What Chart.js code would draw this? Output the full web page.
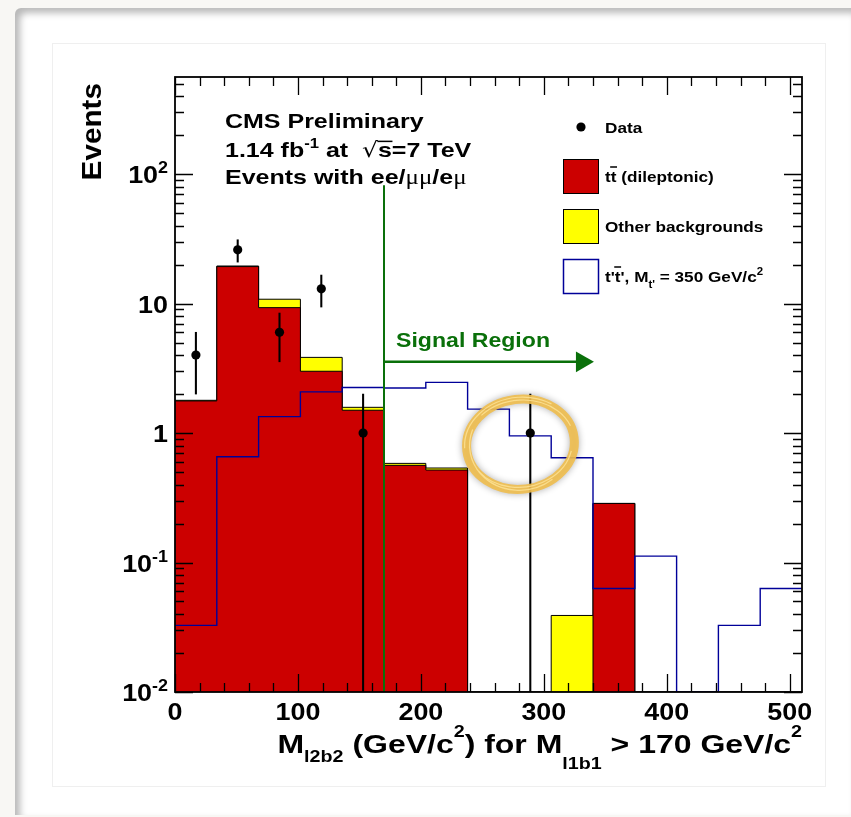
<!DOCTYPE html>
<html>
<head>
<meta charset="utf-8">
<script src="https://cdn.jsdelivr.net/npm/chart.js@4.4.1/dist/chart.umd.min.js"></script>
<style>
html, body { margin: 0; padding: 0; width: 851px; height: 817px; overflow: hidden; background: #f8f7f4; }
#card { position: absolute; left: 15px; top: 8px; right: 0; bottom: 2px; background: #fff;
        border-top-left-radius: 6px; box-shadow: inset 5px 5px 7px rgba(0, 0, 0, 0.28); }
#panel { position: absolute; left: 52px; top: 43px; width: 772px; height: 742px;
         border: 1px solid #efefef; background: #fff; }
canvas { position: absolute; left: 0; top: 0; }
</style>
</head>
<body>
<div id="card"></div>
<div id="panel"></div>
<canvas id="myChart" width="851" height="817"></canvas>
<script>
// bin edges of M_l2b2 (GeV/c^2), 15 bins of 34
var binEdges = [0, 34, 68, 102, 136, 170, 204, 238, 272, 306, 340, 374, 408, 442, 476, 510];
// stacked backgrounds
var ttbarDilep = [1.77, 19.3, 9.3, 3.0, 1.5, 0.563, 0.518, 0, 0, 0, 0.286, 0, 0, 0, 0];
var otherBkg = [0.02, 0.2, 1.5, 0.84, 0.08, 0.02, 0.019, 0, 0, 0.039, 0, 0, 0, 0, 0];
// t't' signal, M = 350
var signalTprime = [0.0327, 0.656, 1.34, 2.08, 2.25, 2.23, 2.46, 1.53, 0.95, 0.645, 0.063, 0.112, 0, 0.0327, 0.063];
// data and error bars
var dataCounts = [4, 26, 6, 13, 1, 0, 0, 0, 1, 0, 0, 0, 0, 0, 0];
var dataErrUp = [2.0, 5.1, 2.45, 3.6, 1.0, 0, 0, 0, 1.0, 0, 0, 0, 0, 0, 0];
var dataErrDown = [2.0, 5.1, 2.45, 3.6, 1.0, 0, 0, 0, 1.0, 0, 0, 0, 0, 0, 0];
// axes
var xTickLabels = ['0', '100', '200', '300', '400', '500'];
var yDecades = [0.01, 0.1, 1, 10, 100];
var yTickLabels = [['10', '-2'], ['10', '-1'], ['1', ''], ['10', ''], ['10', '2']];
var Y_MIN = 0.01, Y_MAX = 562;
// signal region cut
var cutValue = 170, cutTop = 82;
var arrowLevel = 3.55, arrowEnd = 331;
// highlighted point
var ringCenter = [281, 0.82];

var GREEN = '#0a700a';
var FONT = '"Liberation Sans", Arial, sans-serif';

function histPoints(vals) {
	var pts = [];
	for (var i = 0; i < vals.length; i++) {
		pts.push({ x : binEdges[i], y : vals[i] > 0 ? vals[i] : Y_MIN });
	}
	pts.push({ x : binEdges[vals.length], y : pts[pts.length - 1].y });
	return pts;
}
function binCenter(i) {
	return (binEdges[i] + binEdges[i + 1]) / 2;
}

var stackTotal = ttbarDilep.map(function(v, i) { return v + otherBkg[i]; });
var dataPoints = dataCounts.map(function(n, i) { return { x : binCenter(i), y : n > 0 ? n : null }; });
var errorBars = [];
dataCounts.forEach(function(n, i) {
	if (n > 0) errorBars.push({ x : binCenter(i), y : [Math.max(n - dataErrDown[i], Y_MIN), n + dataErrUp[i]] });
});

// text in runs (ROOT-like latex: sub/superscripts, overlines)
function fontOf(r) {
	return (r.weight || 'bold') + ' ' + r.size + 'px ' + (r.family || FONT);
}
function drawRuns(c, runs, x, y, align, sx) {
	var total = 0;
	runs.forEach(function(r) {
		c.font = fontOf(r);
		r.w = c.measureText(r.t).width * sx + (r.gap || 0);
		total += r.w;
	});
	var cx = align === 'right' ? x - total : (align === 'center' ? x - total / 2 : x);
	runs.forEach(function(r) {
		c.save();
		c.font = fontOf(r);
		c.fillStyle = r.color || '#000';
		c.textAlign = 'left';
		c.textBaseline = 'alphabetic';
		c.translate(cx, y + (r.dy || 0));
		c.scale(sx, 1);
		c.fillText(r.t, 0, 0);
		if (r.bar) {
			var w = c.measureText(r.t).width;
			c.fillRect(-0.5, -r.size * r.bar, w + 1, 1.5);
		}
		c.restore();
		cx += r.w;
	});
	return total;
}

function brushRing(c, cx, cy) {
	c.save();
	c.translate(cx, cy);
	c.rotate(-0.12);
	c.shadowColor = 'rgba(0,0,0,0.35)';
	c.shadowBlur = 7;
	c.strokeStyle = 'rgba(240,190,78,0.9)';
	c.lineWidth = 9;
	c.beginPath();
	c.ellipse(0, 0, 54, 45, 0, 0, Math.PI * 2);
	c.stroke();
	c.shadowBlur = 0;
	c.lineWidth = 1.2;
	c.strokeStyle = 'rgba(252,224,145,0.9)';
	[[52, 43, 0.3, 2.6], [56, 47, 3.2, 5.4], [54, 44, 4.0, 6.0], [51, 46, 1.0, 3.6]].forEach(function(s) {
		c.beginPath();
		c.ellipse(0, 0, s[0], s[1], 0, s[2], s[3]);
		c.stroke();
	});
	c.restore();
}

var rootStyle = {
	id : 'rootStyle',
	afterDatasetsDraw : function(chart) {
		var c = chart.ctx, a = chart.chartArea, xs = chart.scales.x, ys = chart.scales.y;
		c.save();
		// ticks on all four sides, pointing in
		c.strokeStyle = '#000';
		c.lineWidth = 1.3;
		c.beginPath();
		for (var v = 0; v <= 510; v += 20) {
			var px = Math.round(xs.getPixelForValue(v)) + 0.5;
			var len = v % 100 === 0 ? 18 : 9;
			c.moveTo(px, a.bottom); c.lineTo(px, a.bottom - len);
			c.moveTo(px, a.top); c.lineTo(px, a.top + len);
		}
		yDecades.forEach(function(d) {
			for (var k = 1; k <= 9; k++) {
				var val = d * k;
				if (val > Y_MAX) break;
				var py = Math.round(ys.getPixelForValue(val)) + 0.5;
				var len = k === 1 ? 18 : 9;
				c.moveTo(a.left, py); c.lineTo(a.left + len, py);
				c.moveTo(a.right, py); c.lineTo(a.right - len, py);
			}
		});
		c.stroke();
		c.lineWidth = 1.8;
		c.strokeRect(a.left, a.top, a.right - a.left, a.bottom - a.top);

		// tick labels
		xTickLabels.forEach(function(lab) {
			drawRuns(c, [{ t : lab, size : 24 }], xs.getPixelForValue(+lab), a.bottom + 28, 'center', 1.12);
		});
		yDecades.forEach(function(d, i) {
			var py = ys.getPixelForValue(d);
			drawRuns(c, [{ t : yTickLabels[i][0], size : 24 }, { t : yTickLabels[i][1], size : 16, dy : -10 }],
					a.left - 7, py + 9, 'right', 1.12);
		});

		// axis titles
		drawRuns(c, [
			{ t : 'M', size : 26 }, { t : 'l2b2', size : 16, dy : 9 },
			{ t : ' (GeV/c', size : 26 }, { t : '2', size : 16, dy : -16 },
			{ t : ') for M', size : 26 }, { t : 'l1b1', size : 16, dy : 16 },
			{ t : ' > 170 GeV/c', size : 26 }, { t : '2', size : 16, dy : -16 }
		], a.right, a.bottom + 61, 'right', 1.23);
		c.save();
		c.translate(101, a.top + 6);
		c.rotate(-Math.PI / 2);
		drawRuns(c, [{ t : 'Events', size : 27 }], 0, 0, 'right', 1.1);
		c.restore();

		// CMS labels
		var tx = a.left + 50;
		drawRuns(c, [{ t : 'CMS Preliminary', size : 21 }], tx, a.top + 51, 'left', 1.19);
		drawRuns(c, [
			{ t : '1.14 fb', size : 21 }, { t : '-1', size : 14, dy : -9 },
			{ t : ' at  ', size : 21 },
			{ t : '\u221a', size : 21, weight : 'normal', family : '"DejaVu Sans"' },
			{ t : 's', size : 21, bar : 0.78 }, { t : '=7 TeV', size : 21 }
		], tx, a.top + 80, 'left', 1.19);
		drawRuns(c, [
			{ t : 'Events with ee/', size : 21 },
			{ t : '\u03bc\u03bc', size : 21, weight : 'normal', family : '"Liberation Serif"' },
			{ t : '/e', size : 21 },
			{ t : '\u03bc', size : 21, weight : 'normal', family : '"Liberation Serif"' }
		], tx, a.top + 107, 'left', 1.19);

		// signal region label
		var ay = ys.getPixelForValue(arrowLevel);
		drawRuns(c, [{ t : 'Signal Region', size : 21, color : GREEN }], xs.getPixelForValue(cutValue) + 12, ay - 15, 'left', 1.1);

		// legend
		var lx = a.left + 388, lt = a.left + 430;
		c.fillStyle = '#000';
		c.beginPath();
		c.arc(lx + 18, a.top + 50, 4.6, 0, Math.PI * 2);
		c.fill();
		drawRuns(c, [{ t : 'Data', size : 15 }], lt, a.top + 55.5, 'left', 1.145);
		var boxes = [['#cc0000', '#000', 1], ['#ffff00', '#000', 1], ['#ffffff', '#000099', 1.5]];
		boxes.forEach(function(b, i) {
			var by = a.top + 82 + i * 50;
			c.fillStyle = b[0];
			c.fillRect(lx, by, 36, 35);
			c.strokeStyle = b[1];
			c.lineWidth = b[2];
			c.strokeRect(lx + 0.5, by + 0.5, 35, 34);
		});
		drawRuns(c, [{ t : 't', size : 15 }, { t : 't', size : 15, bar : 1.05 }, { t : ' (dileptonic)', size : 15 }],
				lt, a.top + 105, 'left', 1.145);
		drawRuns(c, [{ t : 'Other backgrounds', size : 15 }], lt, a.top + 155, 'left', 1.145);
		drawRuns(c, [
			{ t : "t'", size : 15 }, { t : 't', size : 15, bar : 1.05 }, { t : "', M", size : 15 },
			{ t : "t'", size : 10, dy : 6 }, { t : ' = 350 GeV/c', size : 15 }, { t : '2', size : 10, dy : -7 }
		], lt, a.top + 205, 'left', 1.145);

		// highlight
		brushRing(c, xs.getPixelForValue(ringCenter[0]), ys.getPixelForValue(ringCenter[1]));
		c.restore();
	}
};

var ctx = document.getElementById('myChart');
var myChart = new Chart(ctx, {
	type : 'line',
	data : {
		datasets : [ {
			label : 'Data',
			data : dataPoints,
			showLine : false,
			pointRadius : 4.6,
			pointBackgroundColor : '#000',
			pointBorderWidth : 0,
			order : 0
		}, {
			type : 'bar',
			label : 'errors',
			data : errorBars,
			backgroundColor : '#000',
			barThickness : 1.4,
			borderWidth : 0,
			order : 1
		}, {
			label : 'cut',
			data : [ { x : cutValue, y : Y_MIN }, { x : cutValue, y : cutTop } ],
			borderColor : GREEN,
			borderWidth : 2,
			pointRadius : 0,
			order : 2
		}, {
			label : 'arrow',
			data : [ { x : cutValue, y : arrowLevel }, { x : arrowEnd, y : arrowLevel } ],
			borderColor : GREEN,
			borderWidth : 2.5,
			pointRadius : [ 0, 12 ],
			pointStyle : 'triangle',
			pointRotation : 90,
			pointBackgroundColor : GREEN,
			pointBorderWidth : 0,
			order : 3
		}, {
			label : "t't', M = 350",
			data : histPoints(signalTprime),
			stepped : true,
			borderColor : '#000099',
			borderWidth : 1.4,
			pointRadius : 0,
			fill : false,
			order : 4
		}, {
			label : 'ttbar (dileptonic)',
			data : histPoints(ttbarDilep),
			stepped : true,
			borderColor : '#000',
			borderWidth : 1,
			backgroundColor : '#cc0000',
			fill : 'start',
			pointRadius : 0,
			order : 5
		}, {
			label : 'Other backgrounds',
			data : histPoints(stackTotal),
			stepped : true,
			borderColor : '#000',
			borderWidth : 1,
			backgroundColor : '#ffff00',
			fill : 'start',
			pointRadius : 0,
			order : 6
		} ]
	},
	options : {
		responsive : false,
		animation : false,
		devicePixelRatio : 1,
		layout : { padding : { left : 175, right : 49, top : 77, bottom : 125 } },
		plugins : { legend : { display : false }, tooltip : { enabled : false } },
		scales : {
			x : { type : 'linear', min : 0, max : 510, display : false, offset : false,
				ticks : { stepSize : 100, includeBounds : false } },
			y : { type : 'logarithmic', min : Y_MIN, max : Y_MAX, display : false }
		}
	},
	plugins : [ rootStyle ]
});
</script>
</body>
</html>
